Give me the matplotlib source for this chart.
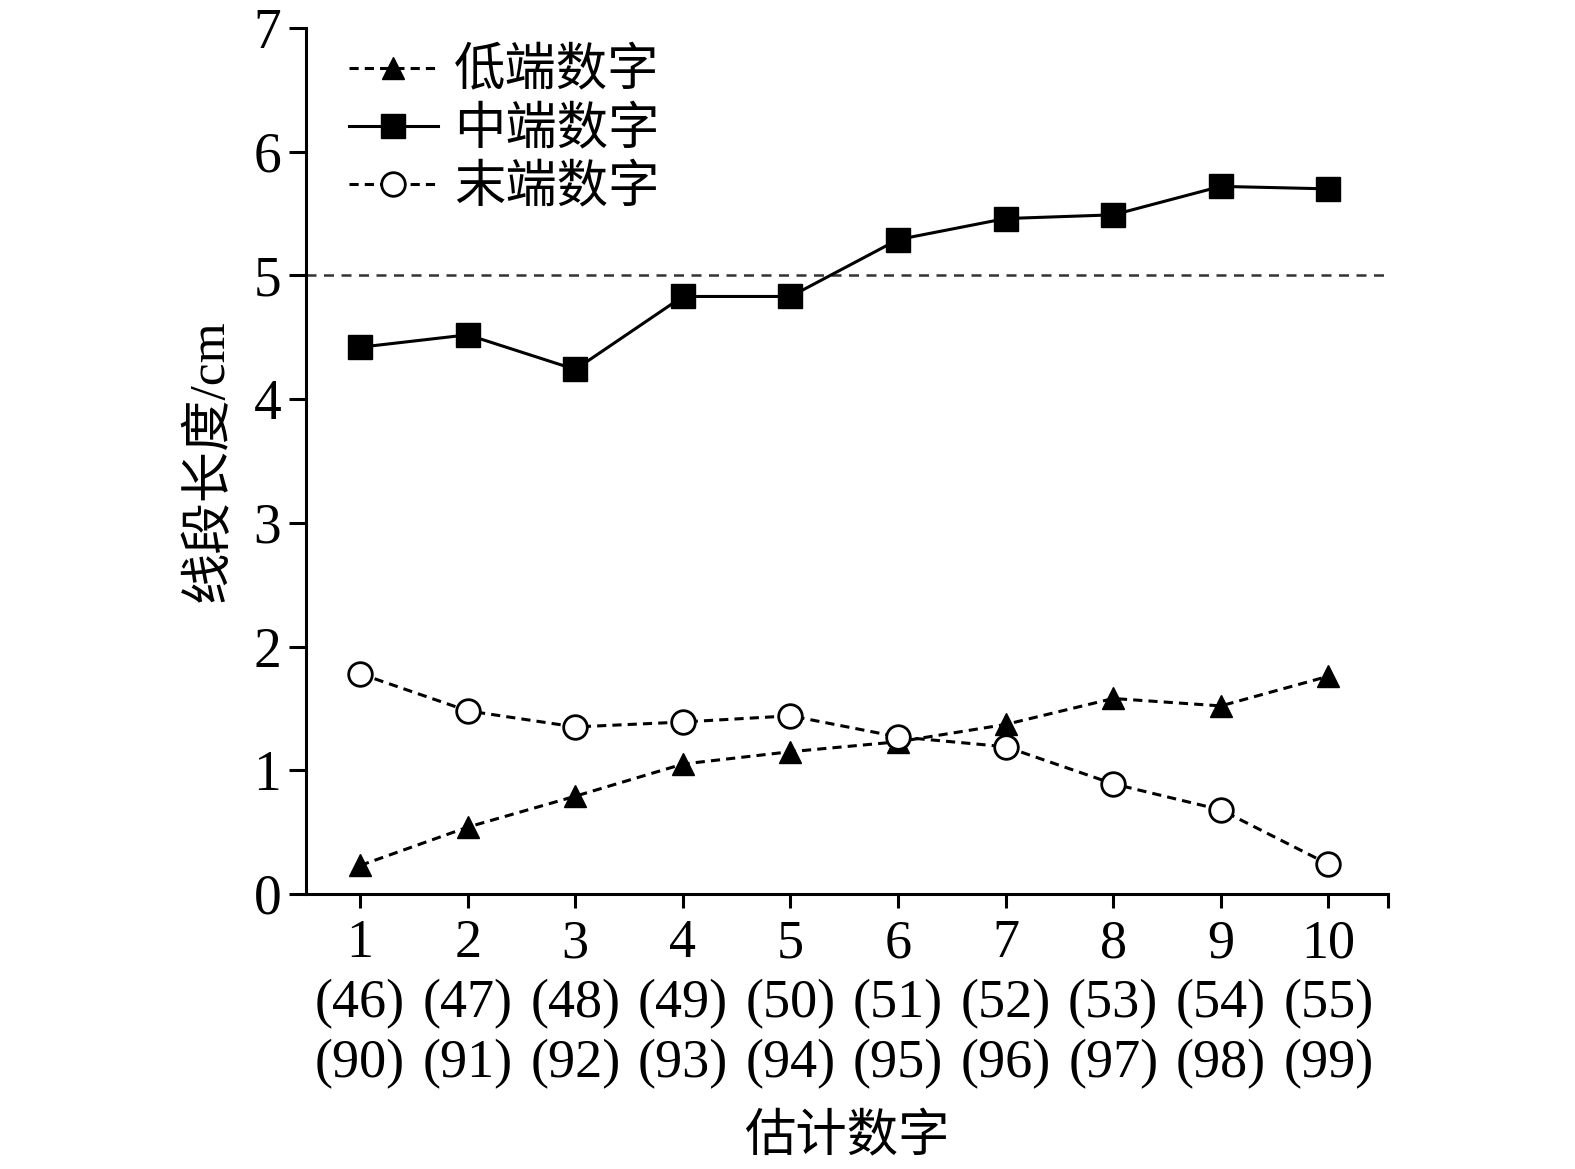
import matplotlib.pyplot as plt

plt.rcParams['font.family'] = ['Liberation Serif', 'Noto Sans CJK SC']

x = [1, 2, 3, 4, 5, 6, 7, 8, 9, 10]
low = [0.23, 0.54, 0.79, 1.05, 1.15, 1.23, 1.37, 1.58, 1.52, 1.76]
mid = [4.42, 4.52, 4.24, 4.83, 4.83, 5.29, 5.46, 5.49, 5.72, 5.70]
end = [1.78, 1.48, 1.35, 1.39, 1.44, 1.27, 1.19, 0.89, 0.68, 0.24]
tick_labels = ['1\n(46)\n(90)', '2\n(47)\n(91)', '3\n(48)\n(92)', '4\n(49)\n(93)',
               '5\n(50)\n(94)', '6\n(51)\n(95)', '7\n(52)\n(96)', '8\n(53)\n(97)',
               '9\n(54)\n(98)', '10\n(55)\n(99)']

fig = plt.figure(figsize=(15.75, 11.69), dpi=100)
ax = fig.add_axes([0.1945, 0.2353, 0.6865, 0.7407])

ax.axhline(5, color='#333333', lw=1.8, ls=(0, (4, 3)), zorder=1)

ax.plot(x, low, color='black', lw=2.2, ls=(0, (3, 2)), marker='^',
        markersize=16, label='低端数字', zorder=3)
ax.plot(x, mid, color='black', lw=2.2, ls='-', marker='s',
        markersize=17, label='中端数字', zorder=3)
ax.plot(x, end, color='black', lw=2.2, ls=(0, (3, 2)), marker='o',
        markersize=17, markerfacecolor='white', markeredgewidth=2,
        label='末端数字', zorder=4)

ax.set_xlim(0.5, 10.55)
ax.set_ylim(0, 7)
ax.set_yticks(range(0, 8))
ax.set_xticks(x)
ax.set_xticklabels(tick_labels, linespacing=1.25)
ax.set_xticks([10.55], minor=True)
ax.tick_params(axis='x', which='minor', length=10, width=2.2, direction='out')

ax.spines['top'].set_visible(False)
ax.spines['right'].set_visible(False)
for s in ['left', 'bottom']:
    ax.spines[s].set_linewidth(2.2)
ax.tick_params(axis='y', length=12, width=2.2, labelsize=40, pad=6)
ax.tick_params(axis='x', length=10, width=2.2, labelsize=39, pad=8)

ax.set_ylabel('线段长度/cm', fontsize=37, labelpad=14)
ax.set_xlabel('估计数字', fontsize=37, labelpad=18)

leg = ax.legend(loc='upper left', bbox_to_anchor=(0.02, 1.0), frameon=False,
                fontsize=37, handlelength=1.75, handletextpad=0.3,
                labelspacing=0.2, borderaxespad=0.0)

fig.savefig('out.png', dpi=100)
